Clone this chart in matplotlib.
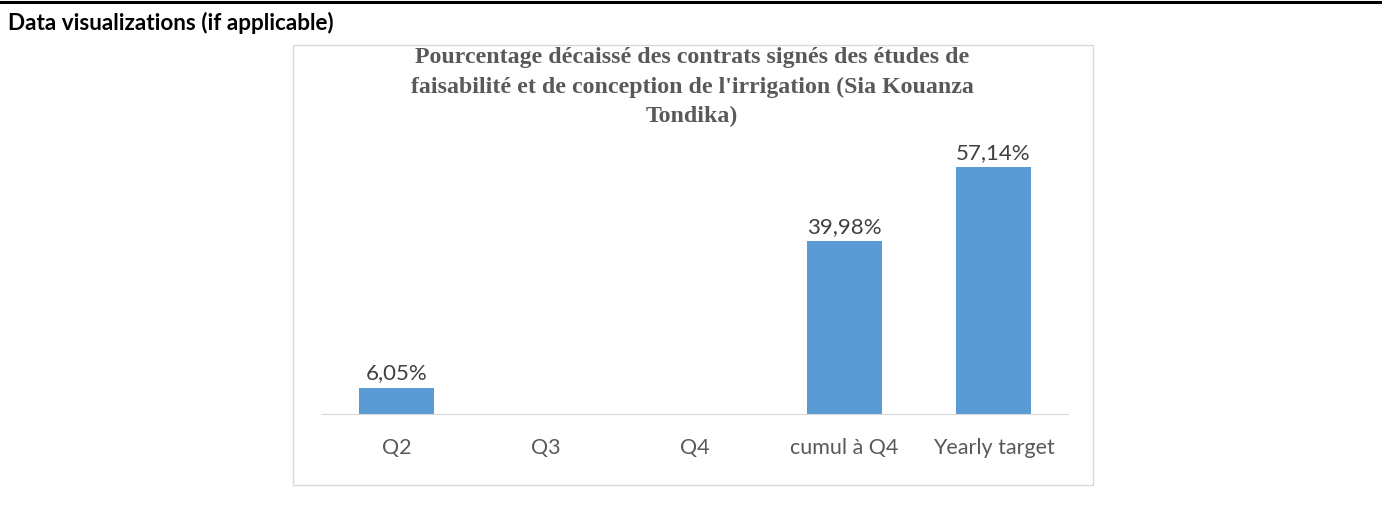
import matplotlib.pyplot as plt
from matplotlib.patches import Rectangle
from matplotlib.lines import Line2D

# Données du graphique
categories = ['Q2', 'Q3', 'Q4', 'cumul à Q4', 'Yearly target']
values = [6.05, 0, 0, 39.98, 57.14]
labels = ['6,05%', '', '', '39,98%', '57,14%']

W, H = 1382, 529
fig = plt.figure(figsize=(W / 100, H / 100), dpi=100)

# ligne noire en haut de la page
fig.add_artist(Line2D([0, 1], [1 - 2 / H, 1 - 2 / H], color='black', lw=2.2))
fig.text(8 / W, 1 - 23 / H, 'Data visualizations (if applicable)', fontsize=16.2,
         fontweight='bold', family='Lato', va='center', ha='left', color='black')

# cadre du graphique
fig.add_artist(Rectangle((293 / W, 1 - 485 / H), 800 / W, 440 / H,
                         transform=fig.transFigure, fill=False,
                         edgecolor='#d9d9d9', lw=1))

# titre
title = ("Pourcentage décaissé des contrats signés des études de\n"
         "faisabilité et de conception de l'irrigation (Sia Kouanza\n"
         "Tondika)")
fig.text(692 / W, 1 - 87 / H, title, fontsize=17.2, fontweight='bold',
         family='Liberation Serif', color='#595959', ha='center', va='center',
         linespacing=1.5)

ax = fig.add_axes([322 / W, 115 / H, 746 / W, 259 / H])
x = range(len(categories))
bars = ax.bar(x, values, width=0.5, color='#5b9bd5')
ax.set_xlim(-0.5, 4.5)
ax.set_ylim(0, 60)

for b, lab in zip(bars, labels):
    if lab:
        ax.text(b.get_x() + b.get_width() / 2, b.get_height() + 1.0, lab,
                ha='center', va='bottom', fontsize=16, family='Lato', color='#404040')

ax.set_xticks(list(x))
ax.set_xticklabels(categories, fontsize=15.5, family='Lato', color='#595959')
ax.tick_params(axis='x', length=0, pad=17)
ax.set_yticks([])
for s in ['top', 'left', 'right']:
    ax.spines[s].set_visible(False)
ax.spines['bottom'].set_color('#d9d9d9')
ax.patch.set_alpha(0)

fig.savefig('out.png', dpi=100)
